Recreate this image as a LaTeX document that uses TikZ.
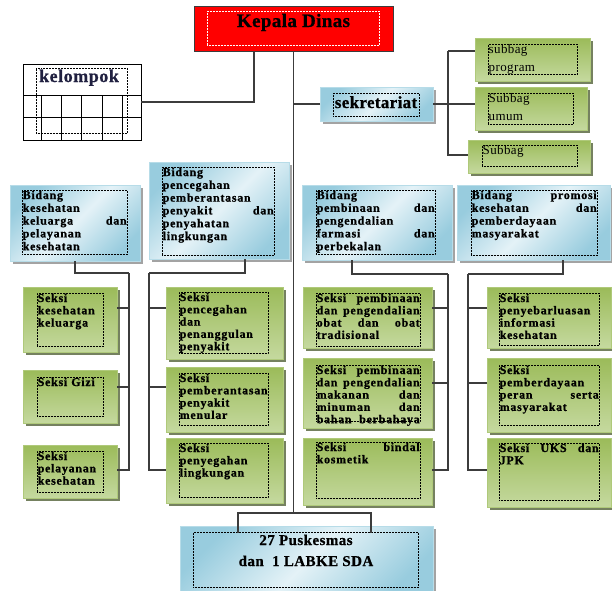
\documentclass[tikz,border=0pt]{standalone}
\usepackage{fontspec}
\setmainfont{Liberation Serif}[LetterSpace=6, BoldFeatures={FakeBold=0.8}]
\newfontfamily\fKD{Liberation Serif}[LetterSpace=2, BoldFeatures={FakeBold=0.8}]
\newfontfamily\fSek{Liberation Serif}[LetterSpace=2, BoldFeatures={FakeBold=0.8}]
\newfontfamily\fSub{Liberation Serif}[LetterSpace=3]
\newfontfamily\fKel{Liberation Serif}[LetterSpace=3, BoldFeatures={FakeBold=0.8}]
\newfontfamily\fPk{Liberation Serif}[LetterSpace=3, BoldFeatures={FakeBold=0.8}]
\usetikzlibrary{shadows}
\newcommand\myNoHy{\hyphenpenalty=10000\relax}
\definecolor{lineC}{HTML}{3C3C3C}
\definecolor{redF}{HTML}{FF0000}
\definecolor{bD}{HTML}{98CCDE}
\definecolor{bL}{HTML}{E4F2F7}
\definecolor{bE}{HTML}{B7DCE8}
\definecolor{gT}{HTML}{9BBB59}
\definecolor{gB}{HTML}{C5D99F}
\definecolor{gE}{HTML}{AFC97A}
\definecolor{shB}{HTML}{8C8C8C}
\definecolor{shG}{HTML}{5E6B45}
\definecolor{kelC}{HTML}{202040}
\tikzset{
  conn/.style={draw=lineC, line width=1.2pt},
  tline/.style={draw=black, line width=0.9pt},
  redbox/.style={rectangle, inner sep=0, outer sep=0, draw=lineC, line width=0.8pt, fill=redF},
  tbl/.style={rectangle, inner sep=0, outer sep=0, draw=black, line width=0.9pt, fill=white},
  bluebox/.style={rectangle, inner sep=0, outer sep=0, draw=bE, line width=0.6pt,
    top color=bD, bottom color=bD, middle color=bL, shading angle=45,
    drop shadow={shadow xshift=2.5pt, shadow yshift=-2.5pt, fill=shB, opacity=0.8}},
  greenbox/.style={rectangle, inner sep=0, outer sep=0, draw=gE, line width=0.8pt,
    top color=gT, bottom color=gB,
    drop shadow={shadow xshift=3pt, shadow yshift=-3pt, fill=shG, opacity=0.85}},
  tframe/.style={rectangle, draw=black, densely dotted, line width=0.5pt, inner sep=0, outer sep=0},
  ttext/.style={inner sep=0.5pt, align=left, text=black, font=\myNoHy\bfseries\fontsize{12}{12.3}\selectfont},
  bidtext/.style={font=\myNoHy\bfseries\fontsize{12}{12.8}\selectfont},
  subtext/.style={font=\fSub\fontsize{13}{17.5}\selectfont},
}
\newcommand\bx[6]{\pgfmathsetmacro\myW{#5-#3}\pgfmathsetmacro\myH{#6-#4}%
  \node[#1,anchor=north west,minimum width=\myW pt,minimum height=\myH pt] (#2) at (#3,#4) {};}
\newcommand\fr[6][]{\pgfmathsetmacro\myW{#5-#3}\pgfmathsetmacro\myH{#6-#4}%
  \node[tframe,#1,anchor=north west,minimum width=\myW pt,minimum height=\myH pt] (#2) at (#3,#4) {};}
\newcommand\tf[7][]{\fr{#2}{#3}{#4}{#5}{#6}\pgfmathsetmacro\myT{#5-#3-1}%
  \node[ttext,#1,anchor=north west,text width=\myT pt] (#2t) at (#3,#4) {#7};}
\begin{document}
\begin{tikzpicture}[x=1pt,y=-1pt]
\useasboundingbox (0,0) rectangle (612,590);
\clip (0,0) rectangle (612,590);
\fill[white] (0,0) rectangle (612,590);

% Kepala Dinas
\bx{redbox}{kd}{194}{6}{393}{51}
\fr[draw=white]{kdf}{207}{11}{379}{45}
\node[font=\fKD\bfseries\fontsize{19}{22}\selectfont, anchor=base, inner sep=0] (kdt) at (293.5,27) {Kepala Dinas};

% kelompok table
\bx{tbl}{kel}{23}{64}{141}{140}
\draw[tline] (23,95) -- (141,95) (23,117) -- (141,117);
\foreach \xx in {41,61,81,102,122} \draw[tline] (\xx,95) -- (\xx,140);
\fr{kelf}{36}{68}{127}{133}
\node[font=\fKel\bfseries\fontsize{18}{20}\selectfont, text=kelC, anchor=base, inner sep=0] (kelt) at (79,82) {kelompok};

% sekretariat
\bx{bluebox}{sek}{320}{87}{433}{121}
\fr{sekf}{333}{93}{419}{116}
\node[font=\fSek\bfseries\fontsize{17}{19}\selectfont, anchor=base, inner sep=0] (sekt) at (376,108) {sekretariat};

% subbag
\bx{greenbox}{sp}{475}{38}{590}{81}
\tf[subtext]{spf}{488}{44}{577}{74}{subbag\\program}
\bx{greenbox}{su}{475}{87}{587}{130}
\tf[subtext]{suf}{488}{93}{573}{124}{Subbag\\umum}
\bx{greenbox}{sb}{468}{140}{590}{173}
\tf[subtext]{sbf}{482}{145}{577}{166}{Subbag}

% bidang
\bx{bluebox}{b1}{10}{185}{140}{261}
\tf[bidtext]{b1f}{22}{190}{127}{254}{Bidang\\kesehatan\\keluarga \hfill dan\\pelayanan\\kesehatan}
\bx{bluebox}{b2}{149}{162}{289}{259}
\tf[bidtext]{b2f}{162}{167}{274}{255}{Bidang\\pencegahan\\pemberantasan\\penyakit \hfill dan\\penyahatan\\lingkungan}
\bx{bluebox}{b3}{302}{185}{452}{260}
\tf[bidtext]{b3f}{316}{190}{435}{254}{Bidang\\pembinaan \hfill dan\\pengendalian\\farmasi \hfill dan\\perbekalan}
\bx{bluebox}{b4}{457}{185}{610}{260}
\tf[bidtext]{b4f}{471}{190}{597}{255}{Bidang \hfill promosi\\kesehatan \hfill dan\\pemberdayaan\\masyarakat}

% seksi column 1
\bx{greenbox}{s1a}{23}{287}{117}{352}
\tf{s1af}{37}{293}{103}{346}{Seksi\\kesehatan\\keluarga}
\bx{greenbox}{s1b}{23}{370}{117}{423}
\tf{s1bf}{37}{377}{103}{416}{Seksi Gizi}
\bx{greenbox}{s1c}{23}{445}{117}{498}
\tf{s1cf}{37}{451}{103}{492}{Seksi\\pelayanan\\kesehatan}

% seksi column 2
\bx{greenbox}{s2a}{166}{287}{283}{359}
\tf{s2af}{179}{292}{268}{353}{Seksi\\pencegahan\\dan\\penanggulan\\penyakit}
\bx{greenbox}{s2b}{166}{367}{283}{432}
\tf{s2bf}{179}{373}{268}{425}{Seksi\\pemberantasan\\penyakit\\menular}
\bx{greenbox}{s2c}{166}{438}{283}{503}
\tf{s2cf}{179}{443}{268}{497}{Seksi\\penyegahan\\lingkungan}

% seksi column 3
\bx{greenbox}{s3a}{303}{287}{432}{348}
\tf{s3af}{316}{293}{420}{346}{Seksi \hfill pembinaan\\dan \hfill pengendalian\\obat \hfill dan \hfill obat\\tradisional}
\bx{greenbox}{s3b}{303}{358}{432}{428}
\tf{s3bf}{316}{365}{420}{421}{Seksi \hfill pembinaan\\dan \hfill pengendalian\\makanan \hfill dan\\minuman \hfill dan\\bahan \hfill berbahaya}
\bx{greenbox}{s3c}{303}{438}{432}{505}
\tf{s3cf}{316}{442}{420}{498}{Seksi \hfill bindal\\kosmetik}

% seksi column 4
\bx{greenbox}{s4a}{487}{287}{611}{348}
\tf{s4af}{499}{293}{599}{345}{Seksi\\penyebarluasan\\informasi\\kesehatan}
\bx{greenbox}{s4b}{487}{358}{611}{432}
\tf{s4bf}{499}{365}{599}{425}{Seksi\\pemberdayaan\\peran \hfill serta\\masyarakat}
\bx{greenbox}{s4c}{487}{438}{611}{507}
\tf{s4cf}{499}{443}{599}{500}{Seksi \hfill UKS \hfill dan\\JPK}

% puskesmas
\bx{bluebox}{pk}{180}{526}{433}{598}
\fr{pkf}{193}{532}{418}{587}
\node[font=\fPk\bfseries\fontsize{15}{21}\selectfont, align=center, anchor=base, inner sep=0] (pkt) at (306,566) {27 Puskesmas\\dan\ \ 1 LABKE SDA};

% connectors
\coordinate (tk) at (293.5,513);
\coordinate (h1) at (129,273);
\coordinate (h2) at (149,273);
\coordinate (h3) at (448,274);
\coordinate (h4) at (468,274);
\coordinate (hs) at (448,51);
\coordinate (pl) at (238,533);
\coordinate (pr) at (371,533);

\draw[conn] (kd.south) -- (tk);
\draw[conn] (kel.east) -| ([xshift=-39.5pt]kd.south);
\draw[conn] (sek.west) -- (sek.west -| kd.south);
\draw[conn] (sek.east) -- (sek.east -| su.west);
\draw[conn] ([yshift=8.5pt]sp.west) -- (hs);
\draw[conn] ([yshift=1.5pt]sb.west) -| (hs);

\draw[conn] (b1.south) |- (h1);
\draw[conn] ([xshift=26pt]b2.south) |- (h2);
\draw[conn] ([xshift=-25pt]b3.south) |- (h3);
\draw[conn] ([xshift=29.5pt]b4.south) |- (h4);

\draw[conn] ([yshift=11.5pt]s1a.east) -| (h1);
\draw[conn] ([yshift=9.5pt]s1b.east) -| (h1);
\draw[conn] ([yshift=1.5pt]s1c.east) -| (h1);
\draw[conn] ([yshift=15pt]s2a.west) -| (h2);
\draw[conn] ([yshift=12.5pt]s2b.west) -| (h2);
\draw[conn] ([yshift=0.5pt]s2c.west) -| (h2);
\draw[conn] ([yshift=9.5pt]s3a.east) -| (h3);
\draw[conn] ([yshift=10pt]s3b.east) -| (h3);
\draw[conn] ([yshift=1.5pt]s3c.east) -| (h3);
\draw[conn] ([yshift=9.5pt]s4a.west) -| (h4);
\draw[conn] ([yshift=12pt]s4b.west) -| (h4);
\draw[conn] ([yshift=2.5pt]s4c.west) -| (h4);

\draw[conn] (pl) |- (tk);
\draw[conn] (pr) |- (tk);
\end{tikzpicture}
\end{document}
